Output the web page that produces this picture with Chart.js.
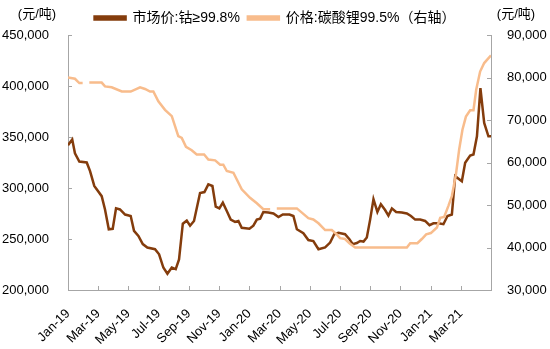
<!DOCTYPE html>
<html>
<head>
<meta charset="utf-8">
<script src="https://cdn.jsdelivr.net/npm/chart.js@4"></script>
<style>
    html, body { margin: 0; padding: 0; background: #fff; }
    #wrap { width: 550px; height: 349px; }
</style>
</head>
<body>
<div id="wrap"><canvas id="myChart" width="550" height="349"></canvas></div>
<script>
// x position in months since Jan-19 (0 = Jan-19)
const xTickLabels = ['Jan-19', 'Mar-19', 'May-19', 'Jul-19', 'Sep-19', 'Nov-19', 'Jan-20',
    'Mar-20', 'May-20', 'Jul-20', 'Sep-20', 'Nov-20', 'Jan-21', 'Mar-21'];

// 市场价:钴≥99.8% (元/吨), left axis
const cobaltMonth = [0, 0.28, 0.46, 0.75, 1.24, 1.46, 1.74, 2.23, 2.45, 2.70, 2.96, 3.18, 3.44, 3.78,
    4.15, 4.37, 4.66, 4.95, 5.25, 5.76, 6.03, 6.31, 6.58, 6.87, 7.13, 7.35, 7.60, 7.86, 8.08, 8.34,
    8.74, 9.03, 9.29, 9.56, 9.78, 10.02, 10.25, 10.51, 10.77, 11.06, 11.28, 11.50, 12.01, 12.27,
    12.50, 12.72, 12.93, 13.26, 13.60, 13.93, 14.22, 14.66, 14.92, 15.15, 15.58, 15.91, 16.24,
    16.58, 17.02, 17.35, 17.62, 17.90, 18.34, 18.63, 18.85, 19.12, 19.34, 19.56, 19.78, 20.00,
    20.22, 20.48, 20.71, 20.99, 21.21, 21.44, 21.72, 22.10, 22.43, 22.70, 22.98, 23.31, 23.64,
    23.93, 24.19, 24.52, 24.85, 25.12, 25.41, 25.63, 26.07, 26.29, 26.62, 26.84, 27.07, 27.30,
    27.55, 27.83, 28.0];
const cobaltPrice = [342000, 347500, 334000, 326000, 325000, 316500, 302000, 292000, 279000, 259500,
    260000, 280000, 279000, 274000, 272500, 258000, 253000, 245000, 241700, 240000, 235000, 222000,
    216000, 222000, 220500, 230000, 265000, 268000, 263000, 267700, 295000, 296000, 303500, 302000,
    281700, 280000, 285600, 277500, 269000, 266700, 267700, 261000, 260000, 263000, 269000, 270000,
    276500, 276000, 275000, 271600, 274000, 274000, 272500, 259500, 255700, 249000, 248000, 240000,
    241700, 246500, 254700, 256000, 254700, 249800, 245000, 246000, 248000, 247500, 251500, 269000,
    289000, 276500, 284000, 278400, 273000, 280000, 276500, 276000, 275000, 272500, 269000, 269000,
    267700, 263500, 265400, 265400, 264500, 272500, 274000, 311600, 306700, 324700, 331800, 332800,
    350700, 398000, 363800, 350700, 350700];

// 价格:碳酸锂99.5% (元/吨), right axis; null = no quote
const lithiumMonth = [0, 0.46, 0.75, 0.97, 1.2, 1.41, 2.23, 2.45, 2.89, 3.56, 4.15, 4.77, 5.10, 5.43,
    5.65, 5.98, 6.42, 6.87, 7.30, 7.53, 7.81, 8.19, 8.52, 9.01, 9.29, 9.74, 10.07, 10.28, 10.51,
    10.95, 11.50, 12.05, 12.50, 12.93, 13.38, 13.6, 13.82, 14.70, 15.15, 15.48, 15.91, 16.24, 16.58,
    17.02, 17.46, 17.79, 18.01, 18.34, 18.63, 19.01, 22.43, 22.65, 23.13, 23.42, 23.71, 24.02,
    24.42, 24.64, 24.90, 25.18, 25.41, 25.68, 25.89, 26.11, 26.34, 26.62, 26.84, 27.02, 27.28,
    27.55, 28.0];
const lithiumPrice = [80000, 79700, 78700, 78700, null, 78800, 78800, 77900, 77700, 76700, 76700,
    77700, 77300, 76700, 76700, 74400, 72400, 70900, 66200, 65800, 63700, 62900, 61900, 61900,
    60700, 60500, 59500, 59500, 58000, 57600, 53700, 51700, 50400, 49000, 49000, null, 49200, 49200,
    49200, 48200, 46900, 46600, 45700, 44100, 44100, 43100, 42200, 42000, 41000, 40000, 40000,
    41000, 41000, 42000, 43100, 43400, 44700, 47000, 47200, 49800, 52100, 57200, 63000, 67700,
    70800, 72300, 72300, 77100, 81400, 83400, 85200];

const axisColor = '#A6A6A6';
const fontFamily = '"Liberation Sans", Arial, "Noto Sans CJK SC", sans-serif';

// small inward tick marks + unit labels
const extrasPlugin = {
    id: 'extras',
    afterDraw(chart) {
        const ctx = chart.ctx;
        const area = chart.chartArea;
        const x = chart.scales.x, yL = chart.scales.y, yR = chart.scales.y1;
        ctx.save();
        ctx.strokeStyle = axisColor;
        ctx.lineWidth = 1;
        ctx.beginPath();
        yL.ticks.forEach(t => {
            const py = Math.round(yL.getPixelForValue(t.value)) + 0.5;
            ctx.moveTo(area.left, py); ctx.lineTo(area.left + 4, py);
        });
        yR.ticks.forEach(t => {
            const py = Math.round(yR.getPixelForValue(t.value)) + 0.5;
            ctx.moveTo(area.right - 4, py); ctx.lineTo(area.right, py);
        });
        x.ticks.forEach(t => {
            const px = Math.round(x.getPixelForValue(t.value)) + 0.5;
            ctx.moveTo(px, area.bottom); ctx.lineTo(px, area.bottom - 4);
        });
        ctx.stroke();

        ctx.fillStyle = '#000';
        ctx.font = '13px ' + fontFamily;
        ctx.textAlign = 'center';
        ctx.textBaseline = 'middle';
        ctx.fillText('(元/吨)', 37, 14);
        ctx.fillText('(元/吨)', 516, 14);
        ctx.restore();
    }
};

function buildGraphic() {
    const ctx = document.getElementById('myChart').getContext('2d');

    const data = {
        datasets: [{
            label: '市场价:钴≥99.8%',
            data: cobaltMonth.map((m, i) => ({ x: m, y: cobaltPrice[i] })),
            borderColor: '#843C0C',
            backgroundColor: '#843C0C',
            borderWidth: 2.5,
            yAxisID: 'y',
            order: 2
        }, {
            label: '价格:碳酸锂99.5%（右轴）',
            data: lithiumMonth.map((m, i) => ({ x: m, y: lithiumPrice[i] })),
            borderColor: '#F8BC8C',
            backgroundColor: '#F8BC8C',
            borderWidth: 2.5,
            yAxisID: 'y1',
            order: 1
        }]
    };

    const config = {
        type: 'line',
        data: data,
        options: {
            responsive: false,
            animation: false,
            spanGaps: false,
            layout: { padding: { top: 3, left: 0, right: 0, bottom: 0 } },
            elements: {
                point: { radius: 0 },
                line: { tension: 0 }
            },
            plugins: {
                tooltip: { enabled: false },
                legend: {
                    display: true,
                    position: 'top',
                    labels: {
                        boxWidth: 31,
                        boxHeight: 3,
                        padding: 8,
                        color: '#000',
                        font: { size: 14, family: fontFamily },
                        sort: (a, b) => a.datasetIndex - b.datasetIndex
                    }
                }
            },
            scales: {
                x: {
                    type: 'linear',
                    min: 0,
                    max: 28,
                    afterBuildTicks: s => { s.ticks = s.ticks.filter(t => t.value <= 26); },
                    afterFit: s => { s.height = 59; },
                    grid: { display: false },
                    border: { display: true, color: axisColor },
                    ticks: {
                        stepSize: 2,
                        autoSkip: false,
                        maxRotation: 45,
                        minRotation: 45,
                        padding: 8,
                        color: '#000',
                        font: { size: 13, family: fontFamily },
                        callback: v => xTickLabels[v / 2]
                    }
                },
                y: {
                    position: 'left',
                    min: 200000,
                    max: 450000,
                    afterFit: s => { s.width = 68; },
                    grid: { display: false },
                    border: { display: true, color: axisColor },
                    ticks: {
                        stepSize: 50000,
                        padding: 11,
                        color: '#000',
                        font: { size: 13, family: fontFamily },
                        callback: v => v.toLocaleString('en-US')
                    }
                },
                y1: {
                    position: 'right',
                    min: 30000,
                    max: 90000,
                    afterFit: s => { s.width = 59; },
                    grid: { display: false },
                    border: { display: true, color: axisColor },
                    ticks: {
                        stepSize: 10000,
                        padding: 8,
                        color: '#000',
                        font: { size: 13, family: fontFamily },
                        callback: v => v.toLocaleString('en-US')
                    }
                }
            }
        },
        plugins: [extrasPlugin]
    };

    const myChart = new Chart(ctx, config);
}

buildGraphic();
</script>
</body>
</html>
